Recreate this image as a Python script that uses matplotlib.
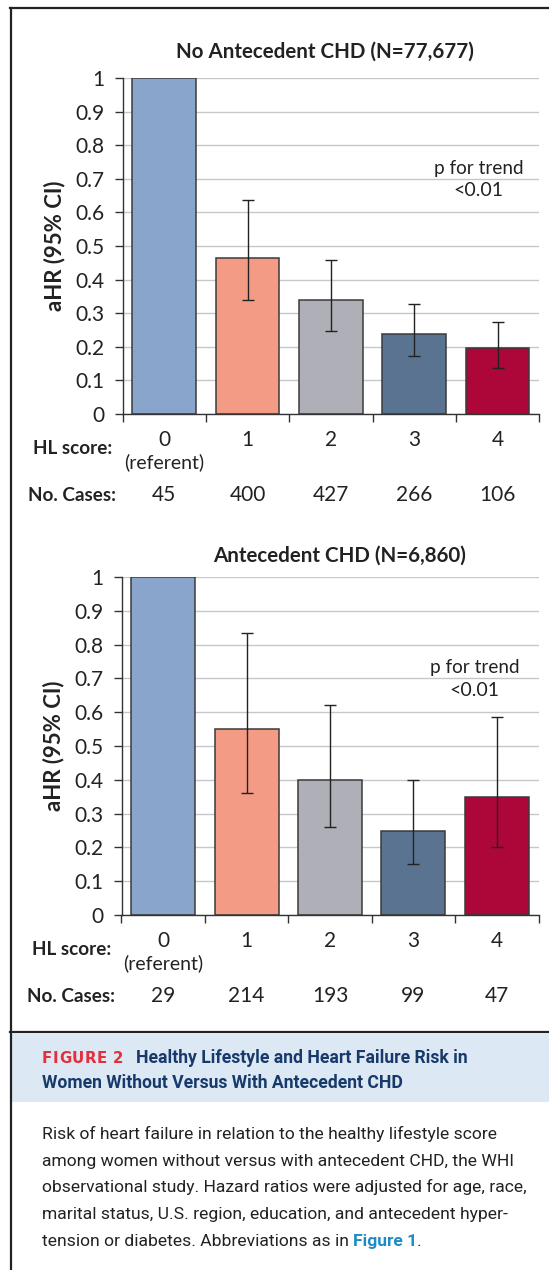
import matplotlib
matplotlib.use('Agg')
import matplotlib.pyplot as plt
from matplotlib.patches import Rectangle
from matplotlib.lines import Line2D
from matplotlib import font_manager
from matplotlib.ft2font import FT2Font

# HL score categories and bar colours
scores = ['0', '1', '2', '3', '4']
bar_colors = ['#8aa5cc', '#f49b86', '#aeafb7', '#5a7390', '#ad0639']

# no antecedent CHD (N=77,677)
no_chd_hr = [1.0, 0.465, 0.34, 0.238, 0.195]
no_chd_lo = [1.0, 0.34, 0.246, 0.172, 0.136]
no_chd_hi = [1.0, 0.636, 0.458, 0.326, 0.274]
no_chd_cases = [45, 400, 427, 266, 106]

# antecedent CHD (N=6,860)
chd_hr = [1.0, 0.55, 0.40, 0.25, 0.35]
chd_lo = [1.0, 0.36, 0.26, 0.15, 0.20]
chd_hi = [1.0, 0.835, 0.62, 0.40, 0.587]
chd_cases = [29, 214, 193, 99, 47]

yticks = [0, 0.1, 0.2, 0.3, 0.4, 0.5, 0.6, 0.7, 0.8, 0.9, 1]
ytick_labels = ['0', '0.1', '0.2', '0.3', '0.4', '0.5', '0.6', '0.7', '0.8', '0.9', '1']

caption_tag = 'FIGURE 2'
caption_head = ['Healthy Lifestyle and Heart Failure Risk in',
                'Women Without Versus With Antecedent CHD']
caption_body = ['Risk of heart failure in relation to the healthy lifestyle score',
                'among women without versus with antecedent CHD, the WHI',
                'observational study. Hazard ratios were adjusted for age, race,',
                'marital status, U.S. region, education, and antecedent hyper-']
caption_last = ['tension or diabetes. Abbreviations as in', 'Figure 1', '.']

plt.rcParams['font.family'] = ['Lato', 'DejaVu Sans']
W, H = 549, 1270
fig = plt.figure(figsize=(W / 100, H / 100), dpi=100)
TXT = '#222222'
AX = '#333333'
NUM = 15
LAB = 13.6


def fx(px):
    return px / W


def fy(py):
    return 1 - py / H


def panel(rect, title, title_x, title_off, hr, lo, hi, cases, p_x):
    ax = fig.add_axes(rect)
    x = list(range(len(scores)))
    ax.bar(x, hr, width=0.765, color=bar_colors, edgecolor='#3a3a3a', linewidth=1.1, zorder=2)
    err_lo = [h - l for h, l in zip(hr[1:], lo[1:])]
    err_hi = [u - h for h, u in zip(hr[1:], hi[1:])]
    ax.errorbar(x[1:], hr[1:], yerr=[err_lo, err_hi], fmt='none', ecolor='#222222',
                elinewidth=1, capsize=4, capthick=1, zorder=3)
    ax.set_xlim(-0.5, 4.5)
    ax.set_ylim(0, 1)
    ax.set_yticks(yticks)
    ax.set_yticklabels(ytick_labels, fontsize=NUM, color=TXT)
    ax.set_xticks([i - 0.5 for i in range(len(scores) + 1)])
    ax.set_xticklabels([])
    ax.tick_params(axis='both', direction='out', length=5.8, width=1, color=AX)
    ax.tick_params(axis='y', pad=7.2)
    ax.yaxis.grid(True, color='#c6c7cb', linewidth=1)
    ax.set_axisbelow(True)
    for s in ['top', 'right']:
        ax.spines[s].set_visible(False)
    for s in ['left', 'bottom']:
        ax.spines[s].set_color(AX)
        ax.spines[s].set_linewidth(1)
    ax.set_ylabel('aHR (95% CI)', fontsize=16, fontweight='bold', color=TXT, va='center')
    ax.yaxis.set_label_coords(-0.164, 0.5)

    ax.annotate(title, xy=(title_x, 1), xycoords='axes fraction', xytext=(0, title_off),
                textcoords='offset points', ha='center', va='center',
                fontsize=14.8, fontweight='bold', color=TXT)
    ax.text(p_x, 0.732, 'p for trend', ha='center', va='center', fontsize=LAB, color=TXT)
    ax.text(p_x, 0.664, '<0.01', ha='center', va='center', fontsize=14, color=TXT)

    # category rows below the axis
    for i, s in enumerate(scores):
        ax.annotate(s, xy=(i, 0), xycoords=('data', 'axes fraction'), xytext=(0, -18.7),
                    textcoords='offset points', ha='center', va='center', fontsize=NUM, color=TXT)
        ax.annotate(str(cases[i]), xy=(i, 0), xycoords=('data', 'axes fraction'),
                    xytext=(0, -58.5), textcoords='offset points', ha='center', va='center',
                    fontsize=NUM, color=TXT)
    ax.annotate('(referent)', xy=(0, 0), xycoords=('data', 'axes fraction'), xytext=(0, -34.6),
                textcoords='offset points', ha='center', va='center', fontsize=14, color=TXT)
    ax.annotate('HL score:', xy=(0, 0), xycoords='axes fraction', xytext=(-7.5, -24.5),
                textcoords='offset points', ha='right', va='center', fontsize=LAB,
                fontweight='bold', color=TXT)
    ax.annotate('No. Cases:', xy=(0, 0), xycoords='axes fraction', xytext=(-5, -58.5),
                textcoords='offset points', ha='right', va='center', fontsize=LAB,
                fontweight='bold', color=TXT)
    return ax


panel([fx(122.5), fy(414), fx(539.2) - fx(122.5), (414 - 78) / H], 'No Antecedent CHD (N=77,677)',
      0.4855, 18.7, no_chd_hr, no_chd_lo, no_chd_hi, no_chd_cases, 3.77)
panel([fx(121.5), fy(915), fx(538.5) - fx(121.5), (915 - 577) / H], 'Antecedent CHD (N=6,860)',
      0.524, 15.1, chd_hr, chd_lo, chd_hi, chd_cases, 3.73)

# frame and caption band
fig.add_artist(Line2D([fx(10), 1], [fy(8), fy(8)], color='#222222', lw=1.6))
fig.add_artist(Line2D([fx(10.7), fx(10.7)], [fy(8), 0], color='#222222', lw=1.6))
fig.add_artist(Line2D([fx(10), 1], [fy(1032), fy(1032)], color='#222222', lw=1.6))
fig.add_artist(Rectangle((fx(12.3), fy(1102)), 1 - fx(12.3), (1102 - 1033.5) / H,
                         transform=fig.transFigure, facecolor='#dde8f5', edgecolor='none'))

renderer = fig.canvas.get_renderer()


def inline(pieces, x, y):
    for s, gap, kw in pieces:
        t = fig.text(x + fx(gap), y, s, ha='left', va='baseline', **kw)
        bb = t.get_window_extent(renderer=renderer)
        x = bb.x1 / fig.bbox.width
    return x


navy = dict(family=['Roboto', 'DejaVu Sans'], fontsize=12.7, fontweight='bold', color='#173a6b')
body = dict(family=['Roboto', 'DejaVu Sans'], fontsize=12.6, color=TXT)

# letter-spaced tag: place each letter by its glyph advance plus tracking
tag_size = 10.8
tag_font = FT2Font(font_manager.findfont(font_manager.FontProperties(family='DejaVu Sans', weight='bold')))
tag_font.set_size(tag_size, 100)
adv = [tag_font.load_char(ord(ch)).linearHoriAdvance / 65536 for ch in caption_tag]
track = (80 - sum(adv[:-1]) - adv[-1] * 0.9) / (len(caption_tag) - 1)
xpos = 42
for ch, a in zip(caption_tag, adv):
    if ch != ' ':
        fig.text(fx(xpos), fy(1063), ch, ha='left', va='baseline', family='DejaVu Sans',
                 fontsize=tag_size, fontweight='bold', color='#e3303c')
    xpos += a + track

fig.text(fx(136), fy(1063), caption_head[0], ha='left', va='baseline', **navy)
fig.text(fx(42), fy(1088), caption_head[1], ha='left', va='baseline', **navy)

for k, line in enumerate(caption_body):
    fig.text(fx(42), fy(1139 + 26.7 * k), line, ha='left', va='baseline', **body)
inline([(caption_last[0], 0, body),
        (caption_last[1], 4, dict(body, fontweight='bold', color='#1c8cc4')),
        (caption_last[2], 0, body)], fx(42), fy(1139 + 26.7 * 4))

fig.savefig('out.png', dpi=100)
